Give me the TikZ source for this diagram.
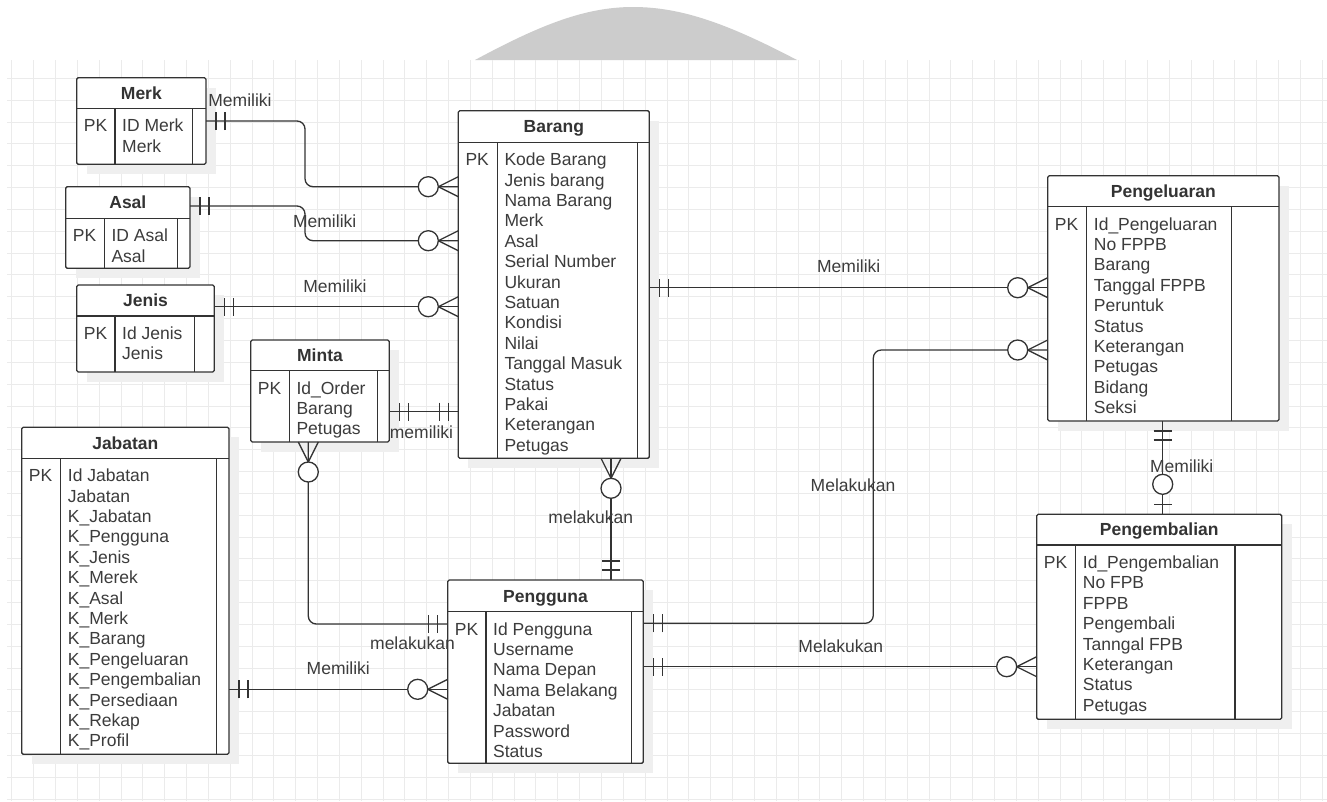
\documentclass[tikz,border=0pt]{standalone}
\usepackage{fontspec}
\setmainfont{Liberation Sans}
\usetikzlibrary{calc}

\definecolor{ink}{HTML}{333333}
\definecolor{txt}{HTML}{3C3C3C}
\definecolor{gridc}{HTML}{EBEBEB}
\definecolor{shadowc}{HTML}{EFEFEF}
\definecolor{humpc}{HTML}{CCCCCC}

\tikzset{
  er/.style={draw=ink, line width=1.3pt},
  ebox/.style={er, fill=white, inner sep=0pt, outer sep=0pt, rounded corners=1.5pt},
  conn/.style={draw=ink, line width=1.3pt},
  etitle/.style={font=\fontsize{17.5}{20.4}\selectfont\bfseries, text=ink, inner sep=0pt},
  ftext/.style={font=\fontsize{17.5}{20.4}\selectfont, text=txt, inner sep=0pt},
  rel/.style={font=\fontsize{17.5}{20.4}\selectfont, text=txt, inner sep=0pt},
  % mandatory one: two bars
  one/.pic={\draw[conn] (10,-9) -- (10,9) (19,-9) -- (19,9);},
  % zero or many: crow's foot and circle
  zmany/.pic={\draw[conn] (0,10) -- (20,0) -- (0,-10);
              \draw[conn, fill=white] (30,0) circle[radius=10];},
  % zero or one: bar and circle
  zone/.pic={\draw[conn] (10,-9) -- (10,9);
             \draw[conn, fill=white] (30,0) circle[radius=10];},
}

% entity: name, title, left, top, width, height, title height, key column width, right column width
\newcommand\erentity[9]{%
  \fill[shadowc] (#3+10,-#4-10) rectangle (#3+#5+10,-#4-#6-10);
  \node[ebox, minimum width=#5, minimum height=#6, anchor=north west] (#1) at (#3,-#4) {};
  \draw[er] ([yshift=-#7]#1.north west) -- ([yshift=-#7]#1.north east);
  \draw[er] ([xshift=#8,yshift=-#7]#1.north west) -- ([xshift=#8]#1.south west);
  \draw[er] ([xshift=-#9,yshift=-#7]#1.north east) -- ([xshift=-#9]#1.south east);
  \node[etitle, anchor=base] (#1-title) at ($(#1.north)+(0,-#7/2-6.3)$) {#2};
  \node[ftext, anchor=base west] (#1-pk) at ([xshift=7,yshift=-#7-23.4]#1.north west) {PK};
  \coordinate (#1-fa) at ([xshift=#8+7,yshift=-#7-23.4]#1.north west);
}
% attribute list of an entity
\newcommand\erfields[2]{%
  \foreach \t [count=\i] in {#2}
    \node[ftext, anchor=base west] (#1-f\i) at ([yshift={-(\i-1)*20.4}]#1-fa) {\t};
}

\begin{document}
\begin{tikzpicture}[x=1pt, y=1pt]
\useasboundingbox (0,0) rectangle (1327,-801);
\fill[white] (0,0) rectangle (1327,-801);

% grey hump above the sheet
\fill[humpc] (475,-60) .. controls (540,-25) and (585,-7) .. (633,-7)
  .. controls (683,-7) and (730,-25) .. (797,-60) -- cycle;

% sheet grid
\draw[gridc, line width=0.8pt]
  \foreach \k in {0,...,60} {(11.7+21.84*\k,-60) -- (11.7+21.84*\k,-801)};
\draw[gridc, line width=0.8pt]
  \foreach \k in {0,...,33} {(7,-78.3-21.84*\k) -- (1327,-78.3-21.84*\k)};

% entities
\erentity{merk}{Merk}{76.7}{77.7}{129.3}{86.6}{30.6}{38.3}{13.3}
\erfields{merk}{ID Merk, Merk}
\erentity{asal}{Asal}{65.7}{186.7}{124.3}{81.6}{31.6}{38.6}{12.3}
\erfields{asal}{ID Asal, Asal}
\erentity{jenis}{Jenis}{76.7}{285}{137.6}{87}{31}{38.3}{20}
\erfields{jenis}{Id Jenis, Jenis}
\erentity{minta}{Minta}{250.7}{340}{138.6}{102}{30.7}{38.6}{11.6}
\erfields{minta}{Id\_Order, Barang, Petugas}
\erentity{jabatan}{Jabatan}{21.7}{427.3}{207.3}{327}{31}{39}{12.3}
\erfields{jabatan}{Id Jabatan, Jabatan, K\_Jabatan, K\_Pengguna, K\_Jenis, K\_Merek, K\_Asal, K\_Merk, K\_Barang, K\_Pengeluaran, K\_Pengembalian, K\_Persediaan, K\_Rekap, K\_Profil}
\erentity{barang}{Barang}{458.3}{110.7}{191}{347.6}{31.6}{39}{12}
\erfields{barang}{Kode Barang, Jenis barang, Nama Barang, Merk, Asal, Serial Number, Ukuran, Satuan, Kondisi, Nilai, Tanggal Masuk, Status, Pakai, Keterangan, Petugas}
\erentity{pengeluaran}{Pengeluaran}{1047.7}{175.7}{231.3}{245.3}{31}{39}{47.3}
\erfields{pengeluaran}{Id\_Pengeluaran, No FPPB, Barang, Tanggal FPPB, Peruntuk, Status, Keterangan, Petugas, Bidang, Seksi}
\erentity{pengguna}{Pengguna}{447.7}{580}{195.6}{183.3}{31.7}{38.3}{11.6}
\erfields{pengguna}{Id Pengguna, Username, Nama Depan, Nama Belakang, Jabatan, Password, Status}
\erentity{pengembalian}{Pengembalian}{1036.7}{514.3}{245}{205}{30.7}{39}{46.7}
\erfields{pengembalian}{Id\_Pengembalian, No FPB, FPPB, Pengembali, Tanngal FPB, Keterangan, Status, Petugas}

% relationship lines
\begin{scope}[rounded corners=8pt]
\draw[conn] (merk.east |- 0,-121) -| (305,-186.7) -- (barang.west |- 0,-186.7);
\draw[conn] (asal.east |- 0,-206) -| (305,-240.7) -- (barang.west |- 0,-240.7);
\draw[conn] (jenis.east |- 0,-306.7) -- (barang.west |- 0,-306.7);
\draw[conn] (minta.east |- 0,-411.7) -- (barang.west |- 0,-411.7);
\draw[conn] (minta.south -| 308.3,0) |- (pengguna.west |- 0,-624);
\draw[conn] (jabatan.east |- 0,-689.3) -- (pengguna.west |- 0,-689.3);
\draw[conn] (barang.south -| 611,0) -- (pengguna.north -| 611,0);
\draw[conn] (barang.east |- 0,-287.7) -- (pengeluaran.west |- 0,-287.7);
\draw[conn] (pengguna.east |- 0,-623.3) -| (873.3,-350) -- (pengeluaran.west |- 0,-350);
\draw[conn] (pengguna.east |- 0,-666.7) -- (pengembalian.west |- 0,-666.7);
\draw[conn] (pengeluaran.south -| 1162.7,0) -- (pengembalian.north -| 1162.7,0);
\end{scope}

% cardinality marks
\pic at (merk.east |- 0,-121) {one};
\pic[rotate=180] at (barang.west |- 0,-186.7) {zmany};
\pic at (asal.east |- 0,-206) {one};
\pic[rotate=180] at (barang.west |- 0,-240.7) {zmany};
\pic at (jenis.east |- 0,-306.7) {one};
\pic[rotate=180] at (barang.west |- 0,-306.7) {zmany};
\pic at (minta.east |- 0,-411.7) {one};
\pic[rotate=180] at (barang.west |- 0,-411.7) {one};
\pic[rotate=-90] at (minta.south -| 308.3,0) {zmany};
\pic[rotate=180] at (pengguna.west |- 0,-624) {one};
\pic at (jabatan.east |- 0,-689.3) {one};
\pic[rotate=180] at (pengguna.west |- 0,-689.3) {zmany};
\pic[rotate=-90] at (barang.south -| 611,0) {zmany};
\pic[rotate=90] at (pengguna.north -| 611,0) {one};
\pic at (barang.east |- 0,-287.7) {one};
\pic[rotate=180] at (pengeluaran.west |- 0,-287.7) {zmany};
\pic at (pengguna.east |- 0,-623.3) {one};
\pic[rotate=180] at (pengeluaran.west |- 0,-350) {zmany};
\pic at (pengguna.east |- 0,-666.7) {one};
\pic[rotate=180] at (pengembalian.west |- 0,-666.7) {zmany};
\pic[rotate=-90] at (pengeluaran.south -| 1162.7,0) {one};
\pic[rotate=90] at (pengembalian.north -| 1162.7,0) {zone};

% relationship labels
\node[rel] (l-merk) at (240,-100) {Memiliki};
\node[rel] (l-asal) at (324.7,-221.5) {Memiliki};
\node[rel] (l-jenis) at (335,-286) {Memiliki};
\node[rel] (l-minta) at (421.5,-432.5) {memiliki};
\node[rel] (l-minta-pg) at (412.5,-643.3) {melakukan};
\node[rel] (l-jabatan) at (338.3,-668.3) {Memiliki};
\node[rel] (l-barang-pg) at (590.8,-517.3) {melakukan};
\node[rel] (l-barang-pk) at (848.7,-266.7) {Memiliki};
\node[rel] (l-pg-pk) at (853,-485.3) {Melakukan};
\node[rel] (l-pg-pb) at (840.8,-646.3) {Melakukan};
\node[rel] (l-pk-pb) at (1181.7,-465.8) {Memiliki};
\end{tikzpicture}
\end{document}
